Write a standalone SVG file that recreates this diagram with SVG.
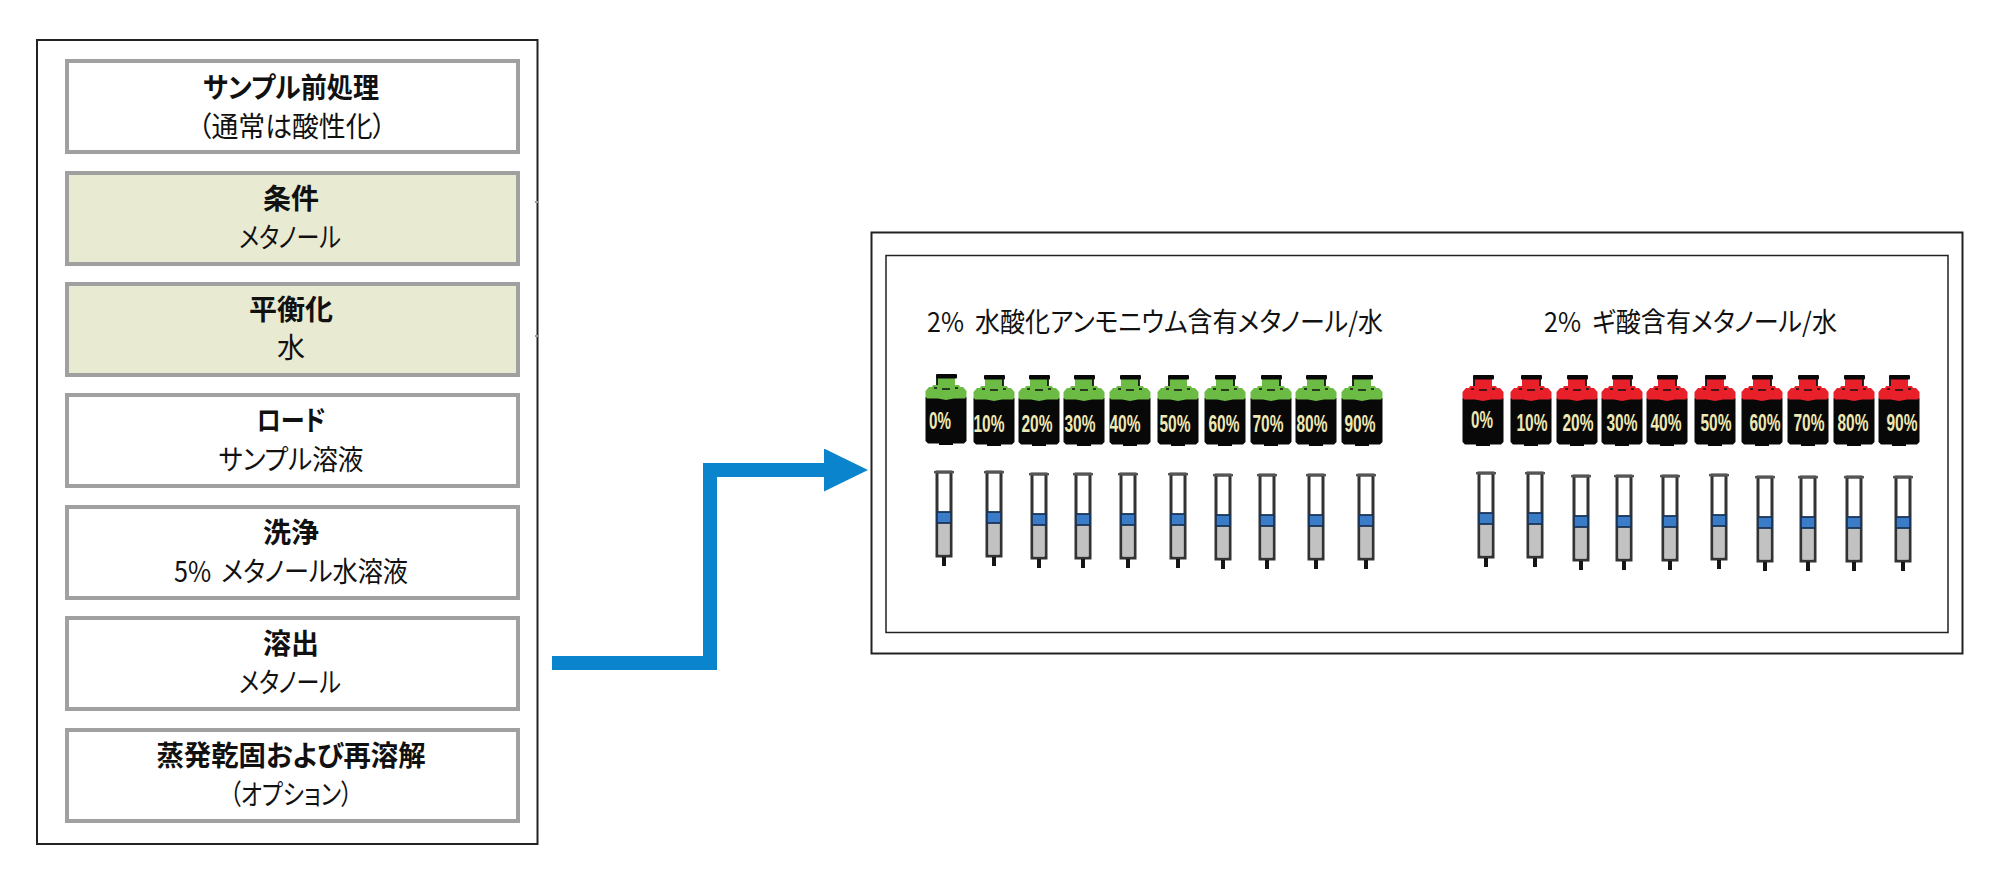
<svg xmlns="http://www.w3.org/2000/svg" width="2000" height="887" viewBox="0 0 2000 887">
<style>
text{font-family:"Noto Sans CJK JP","Noto Sans",sans-serif;font-feature-settings:"palt";fill:#111;font-size:28px}
.c{text-anchor:middle}
.b{font-weight:700}
.frame{fill:none;stroke:#222;stroke-width:2}
.step{fill:#fff;stroke:#a0a0a0;stroke-width:4}
.cond{fill:#e9ead2;stroke:#a0a0a0;stroke-width:4}
.pct{font-family:"Liberation Sans",sans-serif;font-weight:700;font-size:24px;fill:#efe8b4;text-anchor:middle}
.ttl{font-size:27px;word-spacing:6px}
.ws{word-spacing:5px}
.g{fill:#6cbb45}
.r{fill:#e8202a}
</style>
<defs>
<marker id="ah" markerUnits="userSpaceOnUse" markerWidth="44" markerHeight="43" viewBox="0 0 44 43" refX="0" refY="21.5" orient="auto"><path d="M0 0L44 21.5L0 43Z" fill="#0a84cc"/></marker>
<g id="bottle">
<path fill="#080808" d="M-20.5 23H20.5V67L18 69.500H7V71H-7V69.500H-18L-20.5 67Z"/>
<path d="M-9 3H9V11H13L14 13H17L20.500 17V22.500L19 24.500H8L0 26L-8 24.500H-19L-20.500 22.500V17L-17 13H-14L-13 11H-9Z"/>
<rect x="-10" y="0" width="21" height="4.500" rx="1" fill="#080808"/>
<path d="M-4 15H4M-12 14H-9M9 14H12" stroke="#111" stroke-width="1.300" fill="none"/>
</g>
<path id="nl" d="M-9 3V11" stroke="#111" stroke-width="1.800" fill="none"/>
<path id="nr" d="M9 3V11" stroke="#111" stroke-width="1.800" fill="none"/>
<g id="syringe">
<rect x="-7" y="1" width="14" height="84" fill="#fff" stroke="#333" stroke-width="3"/>
<rect x="-5.500" y="52" width="11" height="31.500" fill="#c2c2c2"/>
<rect x="-7" y="41" width="14" height="11" fill="#3b7cc9" stroke="#1c3557" stroke-width="1.800"/>
<rect x="-10" y="0" width="20" height="2.400" fill="#555"/>
<rect x="-2" y="86" width="4" height="9" fill="#151515"/>
</g>
</defs>
<rect width="2000" height="887" fill="#fff"/>

<g id="connectors">
<path d="M552 663H710V470H824" fill="none" stroke="#0a84cc" stroke-width="14" stroke-linejoin="miter" marker-end="url(#ah)"/>
</g>

<g id="left-frame"><rect class="frame" x="37" y="40" width="500.500" height="804"/><path d="M535 202h3M535 336h3" stroke="#999" stroke-width="2"/></g>
<g id="step-pretreatment"><rect class="step" x="67" y="61" width="451" height="91"/><text class="c b" x="291" y="98" textLength="176" lengthAdjust="spacingAndGlyphs">サンプル前処理</text><text class="c" x="292" y="137" textLength="188" lengthAdjust="spacingAndGlyphs">（通常は酸性化）</text></g>
<g id="step-condition"><rect class="cond" x="67" y="173" width="451" height="91"/><text class="c b" x="291" y="209">条件</text><text class="c" x="290" y="248" textLength="102" lengthAdjust="spacingAndGlyphs">メタノール</text></g>
<g id="step-equilibrate"><rect class="cond" x="67" y="284" width="451" height="91"/><text class="c b" x="291" y="320">平衡化</text><text class="c" x="291" y="358">水</text></g>
<g id="step-load"><rect class="step" x="67" y="395" width="451" height="91"/><text class="c b" x="291" y="431" textLength="69" lengthAdjust="spacingAndGlyphs">ロード</text><text class="c" x="291" y="470" textLength="145" lengthAdjust="spacingAndGlyphs">サンプル溶液</text></g>
<g id="step-wash"><rect class="step" x="67" y="507" width="451" height="91"/><text class="c b" x="291" y="543">洗浄</text><text class="c ws" x="291" y="582" textLength="234" lengthAdjust="spacingAndGlyphs">5% メタノール水溶液</text></g>
<g id="step-elute"><rect class="step" x="67" y="618" width="451" height="91"/><text class="c b" x="291" y="654">溶出</text><text class="c" x="290" y="693" textLength="102" lengthAdjust="spacingAndGlyphs">メタノール</text></g>
<g id="step-evaporate"><rect class="step" x="67" y="730" width="451" height="91"/><text class="c b" x="291" y="766" textLength="269" lengthAdjust="spacingAndGlyphs">蒸発乾固および再溶解</text><text class="c" x="291" y="805" textLength="123" lengthAdjust="spacingAndGlyphs">（オプション）</text></g>

<g id="right-frame"><rect class="frame" x="871.500" y="232.500" width="1091" height="421"/><rect x="886" y="255.500" width="1062" height="377" fill="none" stroke="#222" stroke-width="1.500"/></g>
<text id="title-base" class="ttl" x="927" y="332" textLength="456" lengthAdjust="spacingAndGlyphs">2% 水酸化アンモニウム含有メタノール/水</text>
<text id="title-acid" class="ttl" x="1544" y="332" textLength="293" lengthAdjust="spacingAndGlyphs">2% ギ酸含有メタノール/水</text>

<g id="bottles-green">
<g id="g0" class="g"><use href="#bottle" x="946" y="374"/><use href="#nl" x="946" y="374"/><text class="pct" x="940" y="429" textLength="22" lengthAdjust="spacingAndGlyphs">0%</text></g>
<g id="g10" class="g"><use href="#bottle" x="994" y="375"/><use href="#nr" x="994" y="375"/><text class="pct" x="989" y="432" textLength="31" lengthAdjust="spacingAndGlyphs">10%</text></g>
<g id="g20" class="g"><use href="#bottle" x="1039" y="375"/><use href="#nr" x="1039" y="375"/><text class="pct" x="1037" y="432" textLength="31" lengthAdjust="spacingAndGlyphs">20%</text></g>
<g id="g30" class="g"><use href="#bottle" x="1084" y="375"/><use href="#nr" x="1084" y="375"/><text class="pct" x="1080" y="432" textLength="31" lengthAdjust="spacingAndGlyphs">30%</text></g>
<g id="g40" class="g"><use href="#bottle" x="1130" y="375"/><use href="#nr" x="1130" y="375"/><text class="pct" x="1125" y="432" textLength="31" lengthAdjust="spacingAndGlyphs">40%</text></g>
<g id="g50" class="g"><use href="#bottle" x="1178" y="375"/><use href="#nl" x="1178" y="375"/><text class="pct" x="1175" y="432" textLength="31" lengthAdjust="spacingAndGlyphs">50%</text></g>
<g id="g60" class="g"><use href="#bottle" x="1225" y="375"/><use href="#nr" x="1225" y="375"/><text class="pct" x="1224" y="432" textLength="31" lengthAdjust="spacingAndGlyphs">60%</text></g>
<g id="g70" class="g"><use href="#bottle" x="1271" y="375"/><use href="#nr" x="1271" y="375"/><text class="pct" x="1268" y="432" textLength="31" lengthAdjust="spacingAndGlyphs">70%</text></g>
<g id="g80" class="g"><use href="#bottle" x="1316" y="375"/><use href="#nr" x="1316" y="375"/><text class="pct" x="1312" y="432" textLength="31" lengthAdjust="spacingAndGlyphs">80%</text></g>
<g id="g90" class="g"><use href="#bottle" x="1362" y="375"/><use href="#nl" x="1362" y="375"/><text class="pct" x="1360" y="432" textLength="31" lengthAdjust="spacingAndGlyphs">90%</text></g>
</g>
<g id="syringes-green">
<use id="gs0" href="#syringe" x="944" y="471"/><use id="gs10" href="#syringe" x="994" y="471"/><use id="gs20" href="#syringe" x="1039" y="473"/><use id="gs30" href="#syringe" x="1083" y="473"/><use id="gs40" href="#syringe" x="1128" y="473"/><use id="gs50" href="#syringe" x="1178" y="473"/><use id="gs60" href="#syringe" x="1223" y="474"/><use id="gs70" href="#syringe" x="1267" y="474"/><use id="gs80" href="#syringe" x="1316" y="474"/><use id="gs90" href="#syringe" x="1366" y="474"/>
</g>

<g id="bottles-red">
<g id="r0" class="r"><use href="#bottle" x="1483" y="375"/><use href="#nl" x="1483" y="375"/><text class="pct" x="1482" y="428" textLength="22" lengthAdjust="spacingAndGlyphs">0%</text></g>
<g id="r10" class="r"><use href="#bottle" x="1531" y="375"/><use href="#nr" x="1531" y="375"/><text class="pct" x="1532" y="431" textLength="31" lengthAdjust="spacingAndGlyphs">10%</text></g>
<g id="r20" class="r"><use href="#bottle" x="1577" y="375"/><use href="#nr" x="1577" y="375"/><text class="pct" x="1578" y="431" textLength="31" lengthAdjust="spacingAndGlyphs">20%</text></g>
<g id="r30" class="r"><use href="#bottle" x="1622" y="375"/><use href="#nr" x="1622" y="375"/><text class="pct" x="1622" y="431" textLength="31" lengthAdjust="spacingAndGlyphs">30%</text></g>
<g id="r40" class="r"><use href="#bottle" x="1667" y="375"/><use href="#nr" x="1667" y="375"/><text class="pct" x="1666" y="431" textLength="31" lengthAdjust="spacingAndGlyphs">40%</text></g>
<g id="r50" class="r"><use href="#bottle" x="1715" y="375"/><use href="#nl" x="1715" y="375"/><text class="pct" x="1716" y="431" textLength="31" lengthAdjust="spacingAndGlyphs">50%</text></g>
<g id="r60" class="r"><use href="#bottle" x="1762" y="375"/><use href="#nr" x="1762" y="375"/><text class="pct" x="1765" y="431" textLength="31" lengthAdjust="spacingAndGlyphs">60%</text></g>
<g id="r70" class="r"><use href="#bottle" x="1808" y="375"/><use href="#nr" x="1808" y="375"/><text class="pct" x="1809" y="431" textLength="31" lengthAdjust="spacingAndGlyphs">70%</text></g>
<g id="r80" class="r"><use href="#bottle" x="1854" y="375"/><use href="#nr" x="1854" y="375"/><text class="pct" x="1853" y="431" textLength="31" lengthAdjust="spacingAndGlyphs">80%</text></g>
<g id="r90" class="r"><use href="#bottle" x="1899" y="375"/><use href="#nl" x="1899" y="375"/><text class="pct" x="1902" y="431" textLength="31" lengthAdjust="spacingAndGlyphs">90%</text></g>
</g>
<g id="syringes-red">
<use id="rs0" href="#syringe" x="1486" y="472"/><use id="rs10" href="#syringe" x="1535" y="472"/><use id="rs20" href="#syringe" x="1581" y="475"/><use id="rs30" href="#syringe" x="1624" y="475"/><use id="rs40" href="#syringe" x="1670" y="475"/><use id="rs50" href="#syringe" x="1719" y="474"/><use id="rs60" href="#syringe" x="1765" y="476"/><use id="rs70" href="#syringe" x="1808" y="476"/><use id="rs80" href="#syringe" x="1854" y="476"/><use id="rs90" href="#syringe" x="1903" y="476"/>
</g>
</svg>
